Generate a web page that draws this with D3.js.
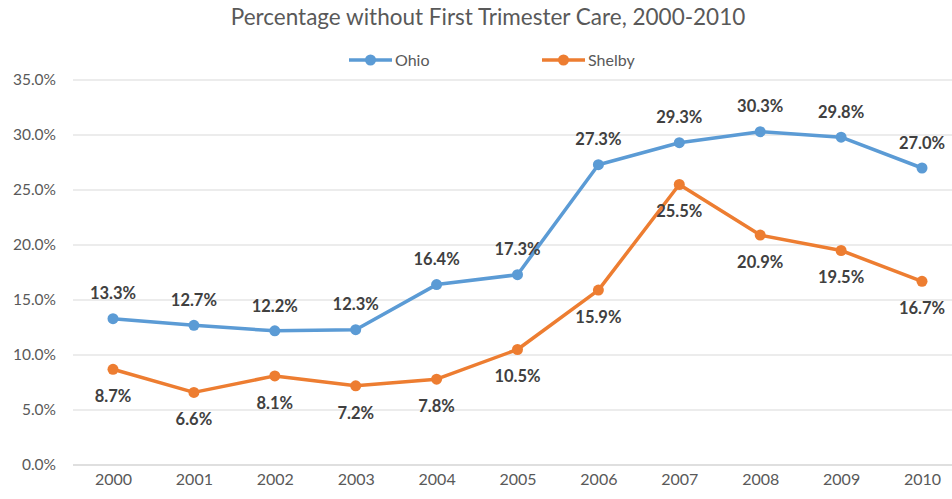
<!DOCTYPE html>
<html><head><meta charset="utf-8">
<script src="https://cdn.jsdelivr.net/npm/d3@7"></script>
<style>body{margin:0;background:#fff}svg{display:block}</style>
</head><body>
<svg id="c" width="952" height="499"></svg>
<script>
const years = ["2000","2001","2002","2003","2004","2005","2006","2007","2008","2009","2010"];
const ohio = [13.3,12.7,12.2,12.3,16.4,17.3,27.3,29.3,30.3,29.8,27.0];
const shelby = [8.7,6.6,8.1,7.2,7.8,10.5,15.9,25.5,20.9,19.5,16.7];
const yTicks = [0,5,10,15,20,25,30,35];
const title = "Percentage without First Trimester Care, 2000-2010";
const seriesNames = ["Ohio","Shelby"];
const colors = ["#5B9BD5","#ED7D31"];

const svg = d3.select("#c");
const font = "Lato, 'Open Sans', sans-serif";
const x = d3.scalePoint().domain(years).range([113,922]);
const y = d3.scaleLinear().domain([0,35]).range([465,80]);

svg.append("g").selectAll("line").data(yTicks).join("line")
  .attr("x1",73).attr("x2",952).attr("y1",d=>y(d)).attr("y2",d=>y(d))
  .attr("stroke",d=>d===0?"#BFBFBF":"#D9D9D9").attr("stroke-width",1);

const yAxis = svg.append("g").attr("transform","translate(56,0)")
  .call(d3.axisLeft(y).tickValues(yTicks).tickFormat(d=>d.toFixed(1)+"%").tickSize(0).tickPadding(0));
yAxis.select(".domain").remove();
yAxis.selectAll("text").attr("font-family",font).attr("font-size",15.5).attr("fill","#595959");

const xAxis = svg.append("g").attr("transform","translate(0,479)")
  .call(d3.axisBottom(x).tickSize(0).tickPadding(0));
xAxis.select(".domain").remove();
xAxis.selectAll("text").attr("font-family",font).attr("font-size",16).attr("fill","#595959").attr("dy","0.4em");

svg.append("text").attr("x",488).attr("y",25).attr("text-anchor","middle")
  .attr("font-family",font).attr("font-size",22.5).attr("fill","#595959").text(title);

const line = d3.line().x((d,i)=>x(years[i])).y(d=>y(d)).curve(d3.curveLinear);
const data = [ohio, shelby];
const offs = [-25, 27];
data.forEach((vals,si)=>{
  svg.append("path").datum(vals).attr("d",line).attr("fill","none")
    .attr("stroke",colors[si]).attr("stroke-width",3.5).attr("stroke-linejoin","round");
  svg.append("g").selectAll("circle").data(vals).join("circle")
    .attr("cx",(d,i)=>x(years[i])).attr("cy",d=>y(d)).attr("r",5.5).attr("fill",colors[si]);
  svg.append("g").selectAll("text").data(vals).join("text")
    .attr("x",(d,i)=>x(years[i])).attr("y",d=>y(d)+offs[si]).attr("dy","0.35em")
    .attr("text-anchor","middle").attr("font-family",font).attr("font-size",16.5)
    .attr("font-weight","bold").attr("fill","#404040").text(d=>d.toFixed(1)+"%");
});

const leg = [{x:349},{x:542}];
seriesNames.forEach((n,i)=>{
  const g = svg.append("g").attr("transform",`translate(${leg[i].x},60)`);
  g.append("line").attr("x1",0).attr("x2",43).attr("y1",0).attr("y2",0).attr("stroke",colors[i]).attr("stroke-width",3.5);
  g.append("circle").attr("cx",21.5).attr("cy",0).attr("r",5.5).attr("fill",colors[i]);
  g.append("text").attr("x",46).attr("y",0).attr("dy","0.35em").attr("font-family",font)
    .attr("font-size",16).attr("fill","#595959").text(n);
});
</script>
</body></html>
